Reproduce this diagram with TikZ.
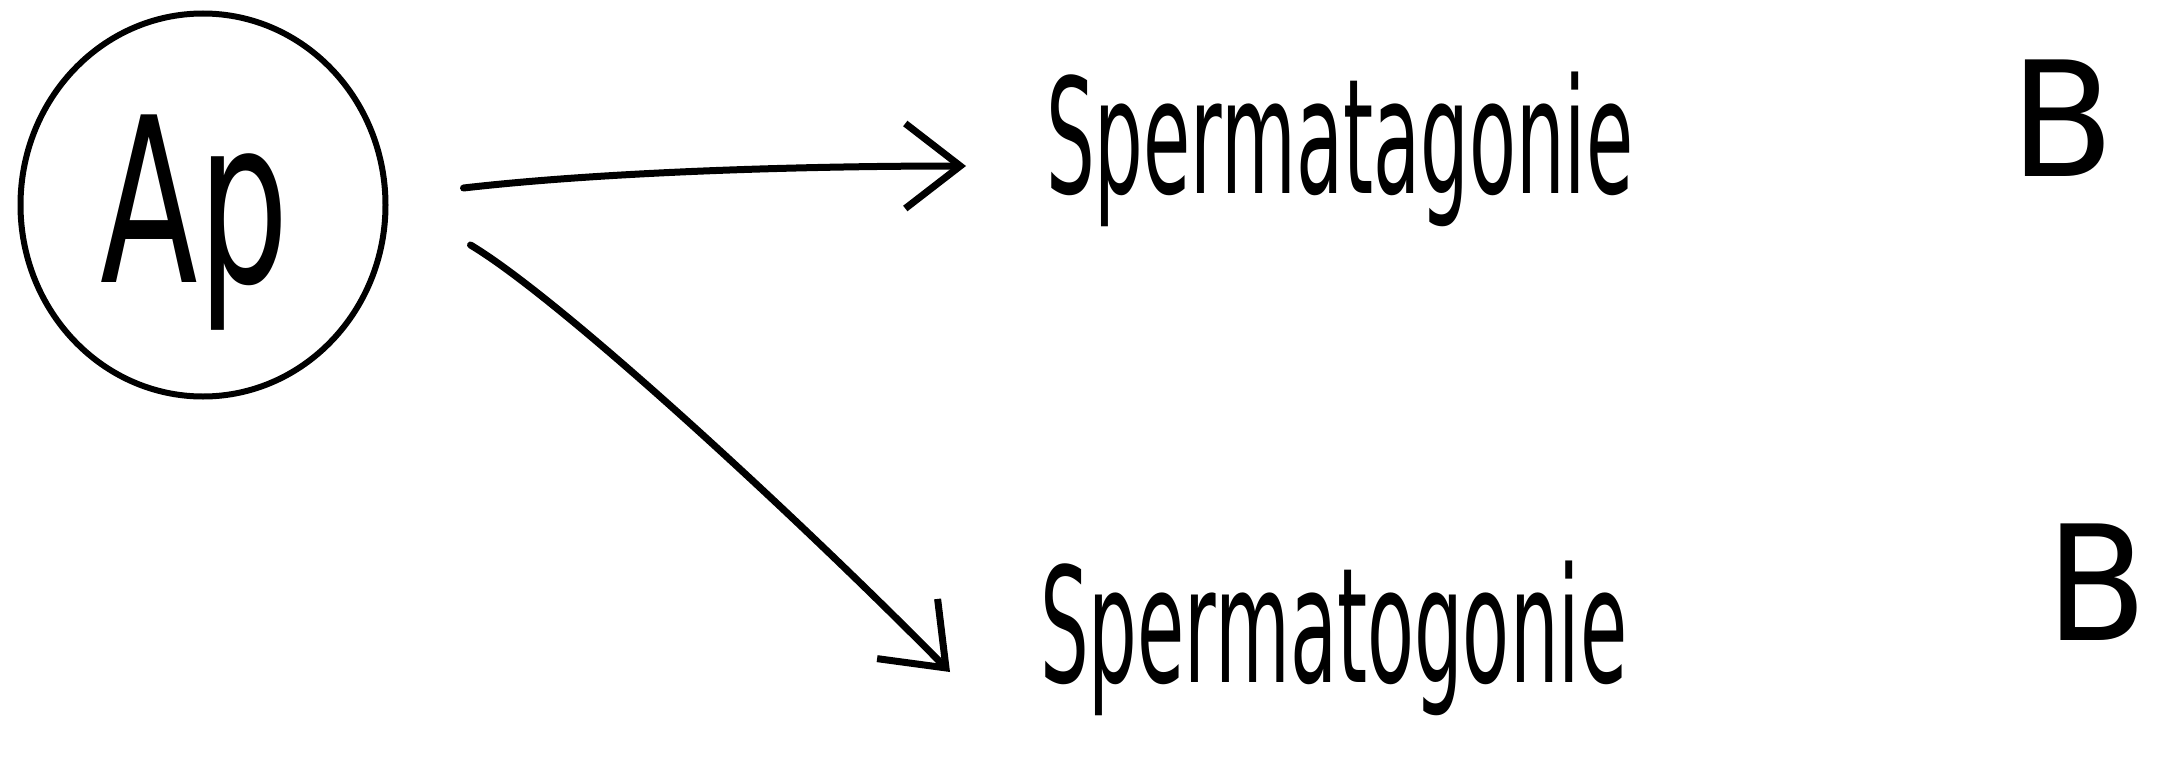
\documentclass[tikz,border=0pt]{standalone}
\usepackage{fontspec}
\usepackage{graphicx}
\newfontfamily\hand{DejaVu Sans}
\usetikzlibrary{arrows.meta,shapes.geometric,calc}
\tikzset{
  ink/.style={line width=7pt, line cap=round, line join=round, black},
  arr/.style={ink, -{Straight Barb[length=55pt,width=85pt,line width=7pt]}},
  word/.style={inner sep=0pt, anchor=base west, font=\hand\fontsize{160}{160}\selectfont},
  cell/.style={draw, ellipse, line width=6pt, minimum width=365pt, minimum height=383pt, inner sep=0pt,
    font=\hand\fontsize{230}{230}\selectfont}
}
\begin{document}
\begin{tikzpicture}[x=1pt,y=-1pt]
\useasboundingbox (0,0) rectangle (2159,779);
\node[cell] (ap) at (203,205) {\raisebox{-77pt}[0pt][0pt]{\makebox[0pt]{\scalebox{0.62}[1]{Ap}\hspace{16pt}}}};
\node[word] (t1) at (1046,193) {\scalebox{0.48}[1]{Spermatagonie}};
\node[word] (b1) at (2010,176) {\scalebox{0.95}[1]{B}};
\node[word] (t2) at (1040,682) {\scalebox{0.48}[1]{Spermatogonie}};
\node[word] (b2) at (2046,640) {\scalebox{0.92}[1]{B}};
\draw[arr] ($(ap.east)+(75,-17)$) .. controls ($(ap.east)+(214,-33)$) and ($(t1.base west)+(-246,-27)$) .. ($(t1.base west)+(-80,-27)$);
\draw[arr] ($(ap.east)+(82,40)$) .. controls ($(ap.east)+(174,95)$) and ($(t2.base west)+(-240,-162)$) .. ($(t2.base west)+(-90,-10)$);
\end{tikzpicture}
\end{document}
